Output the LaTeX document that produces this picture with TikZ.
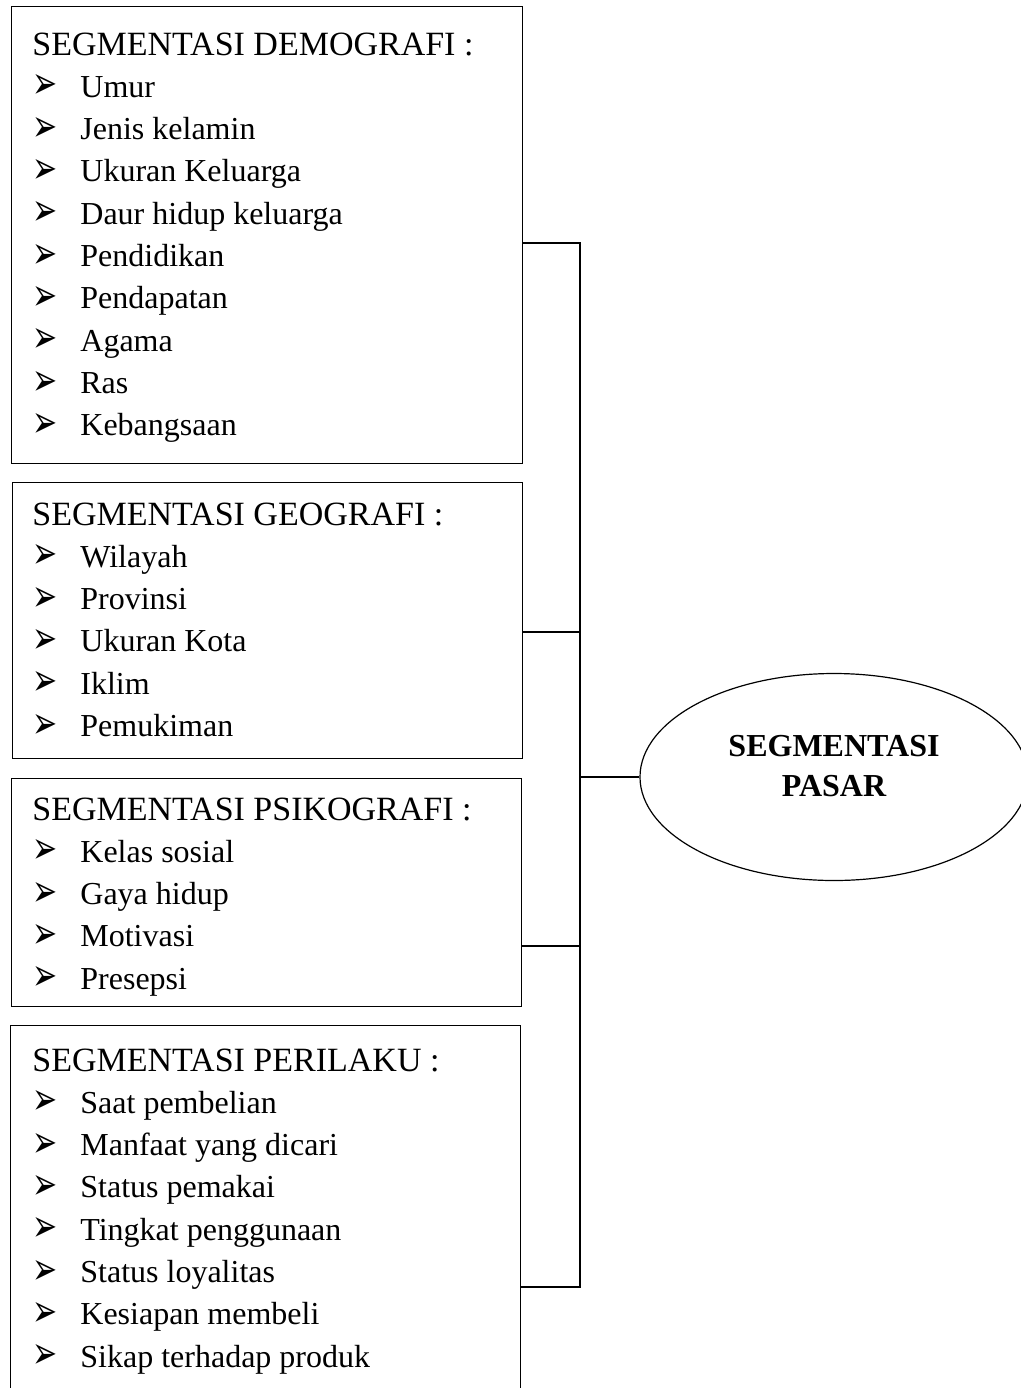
\documentclass[tikz,border=0pt]{standalone}
\usepackage{fontspec}
\setmainfont{Liberation Serif}
\newfontfamily\symfont{DejaVu Sans}
\usetikzlibrary{shapes.geometric, positioning, calc}
\newcommand{\blt}{\makebox[24pt][l]{\raisebox{-0.8pt}{\scalebox{1}[1.5]{\fontsize{15}{15}\symfont ➢}}}\fontsize{16}{21.15}\selectfont}

\begin{document}
\begin{tikzpicture}[x=0.5pt, y=-0.5pt,
    segbox/.style={rectangle, draw, line width=0.6pt, anchor=north west, inner sep=0pt},
    seglist/.style={anchor=base west, align=left, inner sep=0pt, font=\fontsize{17}{21.15}\selectfont},
    link/.style={line width=1pt}]

    \clip (0,0) rectangle (1021,1388);
    \fill[white] (0,0) rectangle (1021,1388);

    \node[segbox, minimum width=255.5pt, minimum height=228.5pt] (demo) at (11,6) {};
    \node[segbox, minimum width=255pt, minimum height=138pt] (geo) at (12,482) {};
    \node[segbox, minimum width=255pt, minimum height=114pt] (psiko) at (11,778) {};
    \node[segbox, minimum width=255pt, minimum height=200pt] (perilaku) at (10,1025) {};

    % lists are placed by the baseline of their last line
    \node[seglist] (demotxt) at ([shift={(21,429.7)}]demo.north west)
        {SEGMENTASI DEMOGRAFI :\\ \blt Umur\\ \blt Jenis kelamin\\ \blt Ukuran Keluarga\\
         \blt Daur hidup keluarga\\ \blt Pendidikan\\ \blt Pendapatan\\ \blt Agama\\ \blt Ras\\ \blt Kebangsaan};
    \node[seglist] (geotxt) at ([shift={(20,254.5)}]geo.north west)
        {SEGMENTASI GEOGRAFI :\\ \blt Wilayah\\ \blt Provinsi\\ \blt Ukuran Kota\\ \blt Iklim\\ \blt Pemukiman};
    \node[seglist] (psikotxt) at ([shift={(21,211.2)}]psiko.north west)
        {SEGMENTASI PSIKOGRAFI :\\ \blt Kelas sosial\\ \blt Gaya hidup\\ \blt Motivasi\\ \blt Presepsi};
    \node[seglist] (perilakutxt) at ([shift={(22,342.1)}]perilaku.north west)
        {SEGMENTASI PERILAKU :\\ \blt Saat pembelian\\ \blt Manfaat yang dicari\\ \blt Status pemakai\\
         \blt Tingkat penggunaan\\ \blt Status loyalitas\\ \blt Kesiapan membeli\\ \blt Sikap terhadap produk};

    \node[ellipse, draw, line width=0.6pt, minimum width=194pt, minimum height=103.5pt] (pasar) at (834,777) {};
    \node[align=center, font=\fontsize{16}{20}\selectfont\bfseries] (pasartxt) at ([shift={(0,-11)}]pasar.center)
        {SEGMENTASI\\PASAR};

    \coordinate (j1) at (580,243);
    \coordinate (j2) at (580,632);
    \coordinate (j3) at (580,946);
    \coordinate (j4) at (580,1287);
    \coordinate (spine) at (580,777);

    \draw[link] (demo.east |- j1) -- (j1) -- (j4) -- (perilaku.east |- j4);
    \draw[link] (geo.east |- j2) -- (j2);
    \draw[link] (psiko.east |- j3) -- (j3);
    \draw[link, line width=1.4pt] (spine) -- (pasar.west);

\end{tikzpicture}
\end{document}
